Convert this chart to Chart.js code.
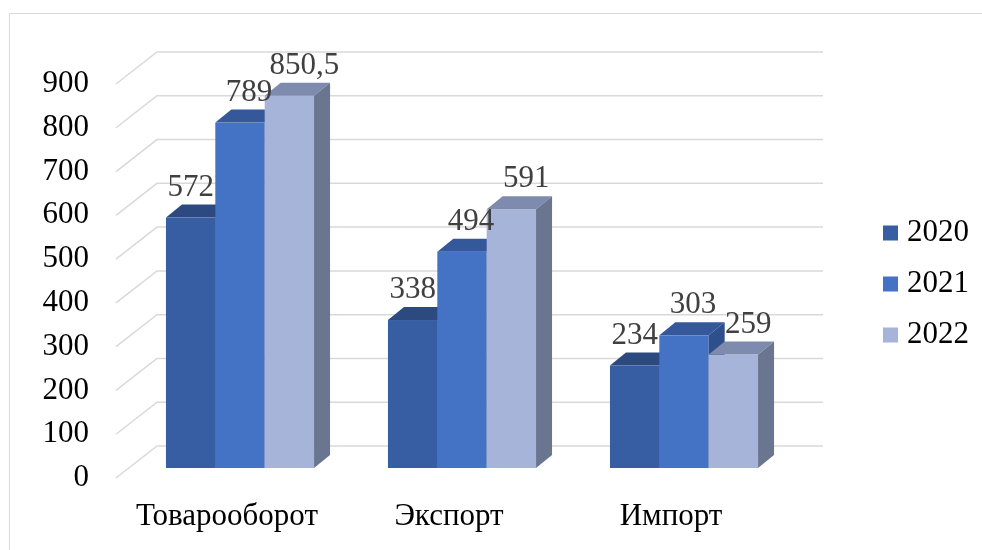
<!DOCTYPE html>
<html>
<head>
<meta charset="utf-8">
<script src="https://cdn.jsdelivr.net/npm/chart.js@4/dist/chart.umd.min.js"></script>
<style>
  body { margin: 0; width: 982px; height: 550px; overflow: hidden; background: #fff; }
  #frame { position: absolute; left: 9px; top: 13px; width: 1000px; height: 600px; border: 1px solid #d9d9d9; }
  #tradeChart { position: absolute; left: 0; top: 0; }
</style>
</head>
<body>
<div id="frame"></div>
<canvas id="tradeChart" width="982" height="550"></canvas>
<script>
var categories = ["Товарооборот", "Экспорт", "Импорт"];
var years = ["2020", "2021", "2022"];
var values2020 = [572, 338, 234];
var values2021 = [789, 494, 303];
var values2022 = [850.5, 591, 259];
var yTicks = [0, 100, 200, 300, 400, 500, 600, 700, 800, 900];

// faces of the fake 3d bars: front, top, side
var faceColors = [
  ['#375EA2', '#2C4A80', '#2A4778'], //2020
  ['#4472C4', '#34589A', '#2E4F8C'], //2021
  ['#A7B4D9', '#7F8BAE', '#6A7590']  //2022
];

var FONT = "'Liberation Serif', 'Times New Roman', serif";
var FONT_SIZE = 31;
var WALL_DX = 41, WALL_DY = -32;   // depth of the back wall
var BAR_DX = 13, BAR_DY = -10;     // where the bars start in depth
var DEPTH_DX = 16, DEPTH_DY = -13; // depth of each bar
var labelShift = [0, 9, 15];

var fake3d = {
  id: 'fake3d',
  beforeDatasetsDraw: function(chart) {
    var c = chart.ctx;
    var area = chart.chartArea;
    var y = chart.scales.y;

    // floor lines and back wall grid
    c.save();
    c.strokeStyle = '#d9d9d9';
    c.lineWidth = 1.5;
    yTicks.forEach(function(t) {
      var py = y.getPixelForValue(t);
      c.beginPath();
      c.moveTo(area.left, py);
      c.lineTo(area.left + WALL_DX, py + WALL_DY);
      c.lineTo(area.right + WALL_DX, py + WALL_DY);
      c.stroke();
    });
    c.restore();

    // bars, category by category so the nearer face covers the one behind
    var metas = chart.data.datasets.map(function(d, i) { return chart.getDatasetMeta(i); });
    for (var i = 0; i < categories.length; i++) {
      metas.forEach(function(meta, d) {
        var bar = meta.data[i];
        var L = bar.x - bar.width / 2 + BAR_DX;
        var R = bar.x + bar.width / 2 + BAR_DX;
        var T = bar.y + BAR_DY;
        var B = bar.base + BAR_DY;
        var col = faceColors[d];

        c.fillStyle = col[0];
        c.fillRect(L, T, R - L, B - T);

        c.fillStyle = col[1];
        c.beginPath();
        c.moveTo(L, T);
        c.lineTo(R, T);
        c.lineTo(R + DEPTH_DX, T + DEPTH_DY);
        c.lineTo(L + DEPTH_DX, T + DEPTH_DY);
        c.closePath();
        c.fill();

        c.fillStyle = col[2];
        c.beginPath();
        c.moveTo(R, T);
        c.lineTo(R + DEPTH_DX, T + DEPTH_DY);
        c.lineTo(R + DEPTH_DX, B + DEPTH_DY);
        c.lineTo(R, B);
        c.closePath();
        c.fill();
      });
    }

    // value labels
    c.save();
    c.font = FONT_SIZE + 'px ' + FONT;
    c.fillStyle = '#404040';
    c.textAlign = 'center';
    c.textBaseline = 'middle';
    metas.forEach(function(meta, d) {
      meta.data.forEach(function(bar, i) {
        var v = chart.data.datasets[d].data[i];
        c.fillText(String(v).replace('.', ','), bar.x + BAR_DX + labelShift[d], bar.y + BAR_DY - 30);
      });
    });
    c.restore();

    // legend on the right
    c.save();
    c.font = FONT_SIZE + 'px ' + FONT;
    c.textAlign = 'left';
    c.textBaseline = 'middle';
    chart.data.datasets.forEach(function(ds, d) {
      var ly = 233 + d * 51;
      c.fillStyle = faceColors[d][0];
      c.fillRect(883, ly - 7.5, 15, 15);
      c.fillStyle = '#000';
      c.fillText(ds.label, 907, ly);
    });
    c.restore();

    return false;
  }
};

var ctx = document.getElementById("tradeChart");
var tradeChart = new Chart(ctx, {
  type: 'bar',
  data: {
    labels: categories,
    datasets: [
      { label: years[0], data: values2020, backgroundColor: faceColors[0][0] },
      { label: years[1], data: values2021, backgroundColor: faceColors[1][0] },
      { label: years[2], data: values2022, backgroundColor: faceColors[2][0] }
    ]
  },
  options: {
    responsive: false,
    animation: false,
    devicePixelRatio: 1,
    layout: { padding: { top: 84, right: 200, left: 0, bottom: 0 } },
    categoryPercentage: 0.667,
    barPercentage: 1,
    plugins: {
      legend: { display: false },
      tooltip: { enabled: false }
    },
    scales: {
      x: {
        grid: { display: false, drawTicks: false },
        border: { display: false },
        ticks: { color: '#000', font: { family: FONT, size: FONT_SIZE }, padding: 20, maxRotation: 0 },
        afterFit: function(scale) { scale.height = 72; }
      },
      y: {
        min: 0,
        max: 900,
        grid: { display: false, drawTicks: false },
        border: { display: false },
        ticks: { stepSize: 100, color: '#000', font: { family: FONT, size: FONT_SIZE }, padding: 27 },
        afterFit: function(scale) { scale.width = 116; }
      }
    }
  },
  plugins: [fake3d]
});
</script>
</body>
</html>
